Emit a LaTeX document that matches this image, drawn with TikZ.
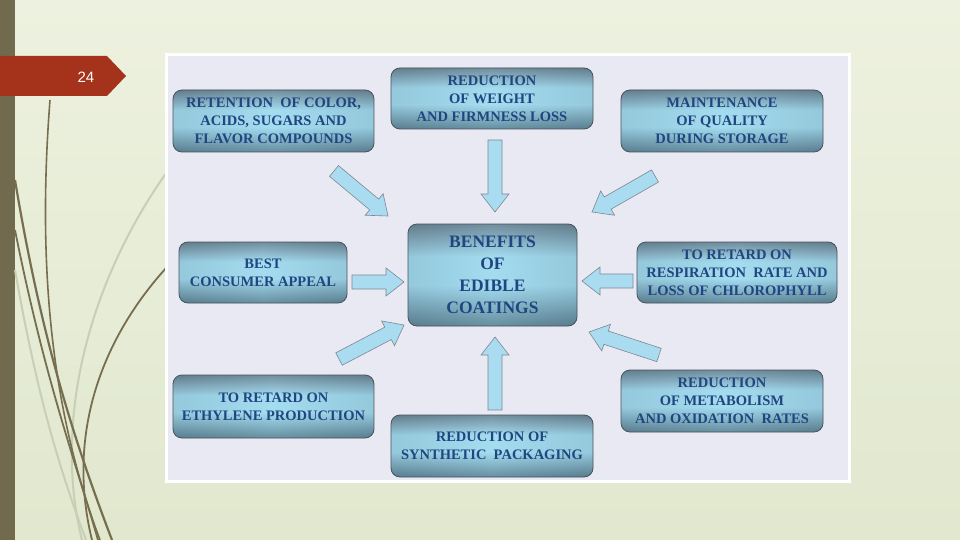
\documentclass[tikz,border=0pt]{standalone}
\usepackage{fontspec}
\setmainfont{Liberation Serif}
\newfontfamily\tagfont{Liberation Sans}
\usepackage{xcolor}
\usetikzlibrary{calc}
\definecolor{SlideTop}{HTML}{EDF1DF}
\definecolor{SlideBot}{HTML}{E1E8CE}
\definecolor{SlideStrip}{HTML}{726A4F}
\definecolor{SlideLine}{HTML}{776E50}
\definecolor{SlideFaint}{HTML}{C8CFB4}
\definecolor{TagRed}{HTML}{A5321B}
\definecolor{EBPanel}{HTML}{E8E9F2}
\definecolor{EBDarkTop}{HTML}{667C8B}
\definecolor{EBDarkBot}{HTML}{587C8D}
\definecolor{EBLight}{HTML}{A4DCF0}
\definecolor{EBEdge}{HTML}{48525C}
\definecolor{EBText}{HTML}{1F4680}
\definecolor{EBArrow}{HTML}{AADCF1}
\definecolor{EBArrowEdge}{HTML}{7D8790}
\newcommand\blockarrow[2]{%
  \coordinate (ba-base) at ($(#2)!18pt!(#1)$);
  \draw[blockarr] ($(#1)!7pt!90:(#2)$) -- ($(ba-base)!7pt!-90:(#1)$) -- ($(ba-base)!14pt!-90:(#1)$) -- (#2)
    -- ($(ba-base)!14pt!90:(#1)$) -- ($(ba-base)!7pt!90:(#1)$) -- ($(#1)!7pt!-90:(#2)$) -- cycle;}

\begin{document}
\begin{tikzpicture}[x=1pt,y=-1pt,
  benefit/.style={draw=EBEdge,line width=.8pt,rounded corners=9pt,inner sep=0pt,
    align=center,text=EBText,font=\fontsize{14.5}{18}\selectfont\bfseries,
    path picture={
      \coordinate (pp-nw) at (path picture bounding box.north west);
      \coordinate (pp-ne) at (path picture bounding box.north east);
      \coordinate (pp-sw) at (path picture bounding box.south west);
      \coordinate (pp-se) at (path picture bounding box.south east);
      \begin{scope}[sharp corners]
      \shade[top color=EBDarkTop,bottom color=EBLight] (pp-nw) rectangle ($(pp-ne)!.32!(pp-se)$);
      \fill[EBLight] ($(pp-nw)!.32!(pp-sw)$) rectangle ($(pp-ne)!.6!(pp-se)$);
      \shade[top color=EBLight,bottom color=EBDarkBot] ($(pp-nw)!.6!(pp-sw)$) rectangle (pp-se);
      \shade[left color=EBDarkBot,right color=EBDarkBot,middle color=EBLight,opacity=.2] (pp-nw) rectangle (pp-se);
      \end{scope}}},
  hub/.style={benefit,font=\fontsize{17.5}{22}\selectfont\bfseries},
  blockarr/.style={fill=EBArrow,draw=EBArrowEdge,line width=.6pt,line join=miter}]
\path[use as bounding box] (0,0) rectangle (960,540);
\shade[top color=SlideTop,bottom color=SlideBot] (0,0) rectangle (960,540);
\fill[SlideStrip] (0,0) rectangle (15,540);
\draw[SlideFaint,line width=2pt] (167,172) .. controls (90,280) and (52,420) .. (82,540);
\draw[SlideFaint,line width=2pt] (15,270) .. controls (38,400) and (60,470) .. (86,540);
\draw[SlideLine,line width=1.6pt] (50,100) .. controls (36,280) and (55,420) .. (100,540);
\draw[SlideLine,line width=2.2pt] (15,180) .. controls (40,330) and (70,430) .. (112,540);
\draw[SlideLine,line width=1.8pt] (15,230) .. controls (45,380) and (75,460) .. (98,540);
\draw[SlideLine,line width=1.8pt] (167,267) .. controls (105,335) and (65,430) .. (92,540);
\fill[TagRed] (0,56) -- (107,56) -- (126,76) -- (107,96) -- (0,96) -- cycle;
\node[text=white,font=\tagfont\fontsize{15}{15}\selectfont] (pagenum) at (86,77) {24};
\fill[white] (165,53) rectangle (851,483);
\fill[EBPanel] (168,56) rectangle (848,480);

\node[benefit,minimum width=201pt,minimum height=62pt] (retention) at (273.5,121) {RETENTION\ \ OF COLOR,\\ACIDS, SUGARS AND\\FLAVOR COMPOUNDS};
\node[benefit,minimum width=202pt,minimum height=61pt] (weight) at (492,98.5) {REDUCTION\\OF WEIGHT\\AND FIRMNESS LOSS};
\node[benefit,minimum width=202pt,minimum height=62pt] (quality) at (722,121) {MAINTENANCE\\OF QUALITY\\DURING STORAGE};
\node[benefit,minimum width=168pt,minimum height=61pt] (appeal) at (263,272.5) {BEST\\CONSUMER APPEAL};
\node[hub,minimum width=169pt,minimum height=102pt] (benefits) at (492.5,275) {BENEFITS\\OF\\EDIBLE\\COATINGS};
\node[benefit,minimum width=200pt,minimum height=61pt] (respiration) at (737,272.5) {TO RETARD ON\\RESPIRATION\ \ RATE AND\\LOSS OF CHLOROPHYLL};
\node[benefit,minimum width=201pt,minimum height=63pt] (ethylene) at (273.5,406.5) {TO RETARD ON\\ETHYLENE PRODUCTION};
\node[benefit,minimum width=202pt,minimum height=62pt] (packaging) at (492,446) {REDUCTION OF\\SYNTHETIC\ \ PACKAGING};
\node[benefit,minimum width=202pt,minimum height=62pt] (metabolism) at (722,401) {REDUCTION\\OF METABOLISM\\AND OXIDATION\ \ RATES};

\coordinate (retention-tail) at (334,171);
\coordinate (retention-tip) at (388,216);
\coordinate (weight-tail) at (495,140);
\coordinate (weight-tip) at (495,212);
\coordinate (quality-tail) at (655,176);
\coordinate (quality-tip) at (592,212);
\coordinate (appeal-tail) at (352,282);
\coordinate (appeal-tip) at (404,282);
\coordinate (respiration-tail) at (633,281);
\coordinate (respiration-tip) at (582,281);
\coordinate (ethylene-tail) at (339,359);
\coordinate (ethylene-tip) at (404,325);
\coordinate (packaging-tail) at (495,410);
\coordinate (packaging-tip) at (495,337);
\coordinate (metabolism-tail) at (659,355);
\coordinate (metabolism-tip) at (589,332);
\foreach \src in {retention,weight,quality,appeal,respiration,ethylene,packaging,metabolism}
  \blockarrow{\src-tail}{\src-tip};
\end{tikzpicture}
\end{document}
